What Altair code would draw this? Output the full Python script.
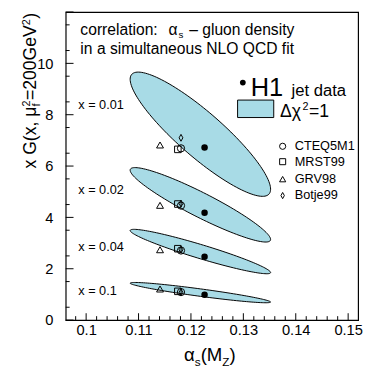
import math
import altair as alt
import pandas as pd

FONT = "Liberation Sans"

# ---------------- values ----------------
ellipse_label = ["x = 0.01", "x = 0.02", "x = 0.04", "x = 0.1"]
ellipse_cx = [0.1218, 0.1218, 0.1218, 0.1218]
ellipse_cy = [7.24, 4.49, 2.67, 1.07]
ellipse_sx = [0.0134, 0.0134, 0.0134, 0.0134]
ellipse_sy = [2.42, 1.45, 0.865, 0.395]
ellipse_rho = [-0.885, -0.93, -0.945, -0.93]
label_y = [8.38, 5.08, 2.86, 1.13]

h1_alpha = [0.1226, 0.1226, 0.1226, 0.1226]
h1_xg = [6.72, 4.18, 2.47, 0.99]
cteq_alpha = [0.1181, 0.1181, 0.1181, 0.1181]
cteq_xg = [6.69, 4.46, 2.71, 1.09]
mrst_alpha = [0.1175, 0.1175, 0.1175, 0.1175]
mrst_xg = [6.65, 4.52, 2.78, 1.12]
grv_alpha = [0.1141, 0.1141, 0.1141, 0.1141]
grv_xg = [6.82, 4.47, 2.74, 1.21]
botje_alpha = [0.1181, 0.1181, 0.1181, 0.1181]
botje_xg = [7.10, 4.54, 2.74, 1.08]

model_names = ["CTEQ5M1", "MRST99", "GRV98", "Botje99"]

x_major = [0.10, 0.11, 0.12, 0.13, 0.14, 0.15]
y_major = [0, 2, 4, 6, 8, 10, 12]
y_labels = [0, 2, 4, 6, 8, 10]
x_domain = [0.0961, 0.1519]
y_domain = [0, 12]

# ---------------- layout ----------------
W, H = 299, 315
FILL = "#a8dbe6"
DIAMOND = "M0,-1L0.55,0L0,1L-0.55,0Z"

XS = alt.Scale(domain=x_domain, nice=False, zero=False)
YS = alt.Scale(domain=y_domain, nice=False, zero=False)
XAX = alt.Axis(values=x_major, format=".2~f", title=None, labelPadding=3, labelFlush=False)
YAX = alt.Axis(values=y_labels, format="d", title=None, labelPadding=13, labelFlush=False)


def X():
    return alt.X("x:Q", scale=XS, axis=XAX)


def Y():
    return alt.Y("y:Q", scale=YS, axis=YAX)


# ellipse outlines (Delta chi^2 = 1 contours from centre, widths, correlation)
rows = []
N = 140
for k in range(len(ellipse_cx)):
    r = ellipse_rho[k]
    for i in range(N):
        t = 2 * math.pi * i / N
        rows.append({
            "e": k, "i": i,
            "x": ellipse_cx[k] + ellipse_sx[k] * math.cos(t),
            "y": ellipse_cy[k] + ellipse_sy[k] * (r * math.cos(t) + math.sqrt(1 - r * r) * math.sin(t)),
        })
ell = alt.Chart(pd.DataFrame(rows)).mark_line(
    interpolate="linear-closed", fill=FILL, stroke="black", strokeWidth=1
).encode(x=X(), y=Y(), detail="e:N", order="i:Q")

# inward ticks
x_minor = [round(0.098 + 0.002 * i, 3) for i in range(27)]
x_minor = [v for v in x_minor if v not in [round(m, 3) for m in x_major] and x_domain[0] <= v <= x_domain[1]]
y_minor = [0.5 + i for i in range(12)]


def xticks(vals, ln):
    return alt.Chart(pd.DataFrame({"x": vals})).mark_rule(color="black", strokeWidth=1).encode(
        x=X(), y=alt.value(H), y2=alt.value(H - ln))


def yticks(vals, ln):
    return alt.Chart(pd.DataFrame({"y": vals})).mark_rule(color="black", strokeWidth=1).encode(
        y=Y(), x=alt.value(0), x2=alt.value(ln))


ticks = [xticks(x_major, 7), xticks(x_minor, 4), yticks(y_major, 8), yticks(y_minor, 4)]


# markers
def pts(xs, ys, shape, size, filled):
    m = alt.Chart(pd.DataFrame({"x": xs, "y": ys})).mark_point(
        shape=shape, size=size, filled=filled, color="black", strokeWidth=1, opacity=1)
    return m.encode(x=X(), y=Y())


leg_x = 0.1375
leg_ys = [6.77, 6.17, 5.49, 4.85]
markers = [
    pts(grv_alpha, grv_xg, "triangle-up", 50, False),
    pts(mrst_alpha, mrst_xg, "square", 45, False),
    pts(cteq_alpha, cteq_xg, "circle", 55, False),
    pts(botje_alpha, botje_xg, DIAMOND, 49, False),
    pts(h1_alpha, h1_xg, "circle", 44, True),
    pts([leg_x], [leg_ys[0]], "circle", 40, False),
    pts([leg_x], [leg_ys[1]], "square", 38, False),
    pts([leg_x], [leg_ys[2]], "triangle-up", 40, False),
    pts([leg_x], [leg_ys[3]], DIAMOND, 40, False),
    pts([0.1299], [9.25], "circle", 34, True),
]

# legend box
box = alt.Chart(pd.DataFrame({"x": [0.1289], "x2": [0.1358], "y": [8.57], "y2": [7.89]})).mark_rect(
    fill=FILL, stroke="black", strokeWidth=1).encode(x=X(), x2="x2:Q", y=Y(), y2="y2:Q")

CW = {'x': 500, ' ': 278, 'G': 778, '(': 333, ',': 278, 'μ': 576, '=': 584, '2': 556, '0': 556,
      'e': 556, 'V': 667, ')': 333, 'f': 278, 'α': 578, 's': 500, 'M': 833, 'Z': 611,
      'Δ': 668, 'χ': 560, 'H': 722, '1': 556}


def tw(s, size):
    return sum(CW.get(c, 556) for c in s) / 1000 * size


def txt(xs, ys, texts, size, dx=0, dy=0, align="left", baseline="alphabetic"):
    return alt.Chart(pd.DataFrame({"x": xs, "y": ys, "t": texts})).mark_text(
        font=FONT, fontSize=size, dx=dx, dy=dy, align=align, baseline=baseline, color="black"
    ).encode(x=X(), y=Y(), text="t:N")


def seq(x, y, pieces):
    """pieces: (text, size, dy, gap) laid out left to right from one anchor"""
    out, off = [], 0.0
    for t, size, dy, gap in pieces:
        off += gap
        out.append(txt([x], [y], [t], size, dx=off, dy=dy))
        off += tw(t, size)
    return out


texts = [
    txt([0.0985] * 4, label_y, ellipse_label, 13, baseline="middle"),
    txt([0.0989, 0.0989], [11.09, 10.38], ["correlation:", "in a simultaneous NLO QCD fit"], 16),
    *seq(0.1157, 11.12, [("α", 16, 0, 0), ("s", 10, 3, 1), ("– gluon density", 16, 0, 6)]),
    txt([0.1314], [8.72], ["H1"], 26),
    txt([0.1392], [8.72], ["jet data"], 17),
    *seq(0.1370, 7.93, [("Δχ", 18, 0, 0), ("2", 11, -7, 1), ("=1", 18, 0, 0.5)]),
    txt([0.1398] * 4, leg_ys, model_names, 13, baseline="middle"),
]


# axis titles (outside the plot area, pixel positions)
def ptxt(x, y, t, size, angle=0):
    return alt.Chart(pd.DataFrame({"t": [t]})).mark_text(
        font=FONT, fontSize=size, align="left", baseline="alphabetic", angle=angle, color="black"
    ).encode(x=alt.value(x), y=alt.value(y), text="t:N")


# y title, rotated, reading upwards
BS, SS = 18, 11
bx = -30
yt = []
pos = 160
yt.append(ptxt(bx, pos, "x G(x, μ", BS, 270)); pos -= tw("x G(x, μ", BS)
yt.append(ptxt(bx - 7, pos, "2", SS, 270)); yt.append(ptxt(bx + 4, pos, "f", SS, 270)); pos -= tw("2", SS) + 0.5
yt.append(ptxt(bx, pos, "=200GeV", BS, 270)); pos -= tw("=200GeV", BS)
yt.append(ptxt(bx - 7, pos, "2", SS, 270)); pos -= tw("2", SS) + 0.5
yt.append(ptxt(bx, pos, ")", BS, 270))

# x title
XB, XSS = 19, 12
bl = 357
xt = []
px = 121
xt.append(ptxt(px, bl, "α", XB)); px += tw("α", XB)
xt.append(ptxt(px, bl + 5, "s", XSS)); px += tw("s", XSS)
xt.append(ptxt(px, bl, "(M", XB)); px += tw("(M", XB)
xt.append(ptxt(px, bl + 5, "Z", XSS)); px += tw("Z", XSS)
xt.append(ptxt(px, bl, ")", XB))

chart = alt.layer(ell, *ticks, box, *markers, *texts, *yt, *xt).properties(
    width=W, height=H,
    autosize=alt.AutoSizeParams(type="none"),
    padding={"left": 59, "top": 0, "right": 5, "bottom": 50},
).configure_view(stroke="black", strokeWidth=1.2).configure_axis(
    labelFont=FONT, labelFontSize=15, labelColor="black", ticks=False, domain=False, grid=False
)

chart.save("out.html", embed_options={"renderer": "svg", "actions": False})
